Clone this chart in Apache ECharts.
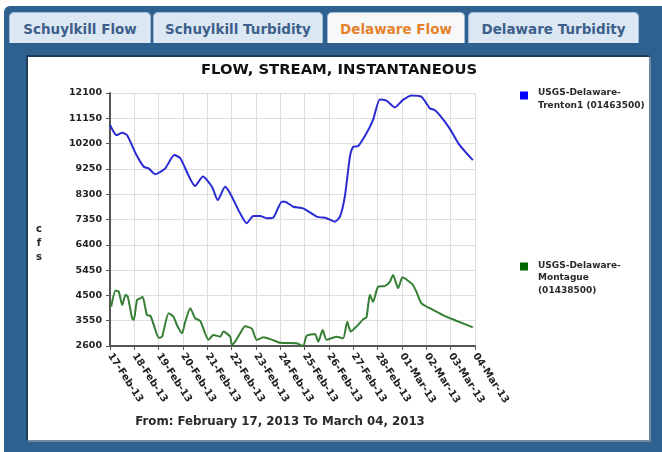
<!DOCTYPE html>
<html>
<head>
<meta charset="utf-8">
<script src="https://cdn.jsdelivr.net/npm/echarts@6/dist/echarts.min.js"></script>
<style>
  html, body { margin: 0; padding: 0; background: #fff; }
  #page { position: relative; width: 662px; height: 452px; overflow: hidden; font-family: "DejaVu Sans", Verdana, sans-serif; }
  #frame { position: absolute; left: 4px; top: 6px; right: 0; bottom: 0; background: #2f6190; border-radius: 6px 0 0 0; }
  .tab { position: absolute; top: 12px; height: 31px; line-height: 33px; text-align: center; background: #dbe8f4;
         border: 1px solid #9fbbd6; border-bottom: none; border-radius: 5px 5px 0 0; box-sizing: border-box;
         font-weight: bold; font-size: 13.5px; color: #3e5f8a; }
  .tab.active { background: #f6f8fa; color: #e5822c; }
  #panel { position: absolute; left: 28px; top: 57px; width: 621px; height: 383px; background: #fff;
           box-shadow: -1px -1px 0 1px #1c3d5e, 1px 1px 0 1px #6f8aa3; }
  #chart { width: 621px; height: 383px; }
</style>
</head>
<body>
<div id="page">
  <div id="frame"></div>
  <div class="tab" style="left:9px;width:142px;">Schuylkill Flow</div>
  <div class="tab" style="left:153px;width:170px;">Schuylkill Turbidity</div>
  <div class="tab active" style="left:327px;width:138px;">Delaware Flow</div>
  <div class="tab" style="left:468px;width:171px;">Delaware Turbidity</div>
  <div id="panel"><div id="chart"></div></div>
</div>
<script>
// x axis: days since 17-Feb-13
var xTickLabels = ['17-Feb-13', '18-Feb-13', '19-Feb-13', '20-Feb-13', '21-Feb-13', '22-Feb-13', '23-Feb-13',
  '24-Feb-13', '25-Feb-13', '26-Feb-13', '27-Feb-13', '28-Feb-13', '01-Mar-13', '02-Mar-13', '03-Mar-13', '04-Mar-13']

// USGS-Delaware-Trenton1 (01463500)
var trentonDays = [0, 0.27, 0.5, 0.7, 1.05, 1.39, 1.59, 1.86, 2.27, 2.64, 2.89, 3.5, 3.82, 4.19, 4.43, 4.73, 4.94, 5.35,
  5.62, 5.89, 6.17, 6.44, 6.71, 7.06, 7.19, 7.53, 7.94, 8.49, 8.9, 9.24, 9.45, 9.65, 9.86, 9.99, 10.2, 10.54, 10.81,
  11.09, 11.36, 11.7, 12.04, 12.39, 12.8, 13.14, 13.34, 13.55, 13.95, 14.36, 14.91]
var trentonCfs = [10900, 10520, 10610, 10520, 9840, 9330, 9270, 9050, 9270, 9770, 9650, 8610, 8960, 8580, 8080, 8580,
  8330, 7580, 7210, 7480, 7480, 7400, 7420, 8020, 8020, 7830, 7770, 7460, 7400, 7270, 7460, 8210, 9710, 10080, 10110,
  10590, 11090, 11860, 11810, 11560, 11840, 12010, 11960, 11530, 11460, 11270, 10780, 10150, 9580]

// USGS-Delaware-Montague (01438500)
var montagueDays = [0.05, 0.23, 0.36, 0.5, 0.64, 0.73, 0.91, 0.98, 1.11, 1.25, 1.34, 1.52, 1.66, 1.8, 2.0, 2.14, 2.41,
  2.61, 2.75, 2.96, 3.09, 3.3, 3.5, 3.71, 4.05, 4.25, 4.53, 4.66, 4.94, 5.01, 5.14, 5.35, 5.55, 5.83, 6.03, 6.3, 6.65,
  6.99, 7.67, 7.94, 8.08, 8.42, 8.56, 8.74, 8.9, 9.31, 9.58, 9.75, 9.89, 10.13, 10.4, 10.54, 10.68, 10.81, 11.02,
  11.29, 11.5, 11.63, 11.84, 12.02, 12.25, 12.45, 12.59, 12.8, 13.14, 13.68, 14.23, 14.91]
var montagueCfs = [4080, 4680, 4640, 4140, 4520, 4450, 3640, 3580, 4330, 4390, 4450, 3760, 3730, 3390, 2910, 2950, 3830,
  3700, 3390, 3080, 3510, 4020, 3640, 3540, 2830, 3010, 2950, 3140, 2950, 2640, 2760, 3080, 3340, 3250, 2830, 2930,
  2840, 2720, 2700, 2600, 2980, 3050, 2760, 3200, 2830, 2950, 2890, 3510, 3140, 3330, 3600, 3680, 4520, 4260, 4830,
  4850, 5010, 5270, 4770, 5180, 5050, 4890, 4640, 4200, 4020, 3760, 3550, 3300]

var seriesNames = ['USGS-Delaware-Trenton1 (01463500)', 'USGS-Delaware-Montague (01438500)']

function pairs(xs, ys) {
  return xs.map(function (x, i) { return [x, ys[i]] })
}

var fontFamily = '"DejaVu Sans", Verdana, sans-serif'
var legendText = { fontFamily: fontFamily, fontSize: 9, fontWeight: 'bold', color: '#2a2a2a', lineHeight: 12.5, padding: [0, 0, 0, 5] }
var chart = echarts.init(document.getElementById('chart'))

chart.setOption({
  animation: false,
  title: [
    {
      text: 'FLOW, STREAM, INSTANTANEOUS',
      left: 311, top: 6, textAlign: 'center', padding: 0,
      textStyle: { fontFamily: fontFamily, fontSize: 14.8, fontWeight: 'bold', color: '#111' }
    },
    {
      text: 'From: February 17, 2013 To March 04, 2013',
      left: 252, top: 359, textAlign: 'center', padding: 0,
      textStyle: { fontFamily: fontFamily, fontSize: 11.8, fontWeight: 'bold', color: '#2a2a2a' }
    }
  ],
  // square sits near the first text line, so the icon box is as tall as the text
  legend: [
    {
      data: [seriesNames[0]], left: 492, top: 29, padding: 0,
      icon: 'path://M0,0L0,0M0,5.5L8,5.5L8,13.5L0,13.5ZM8,26L8,26', itemWidth: 8, itemHeight: 26,
      formatter: function (n) { return n.replace('Delaware-', 'Delaware-\n') },
      textStyle: legendText
    },
    {
      data: [seriesNames[1]], left: 492, top: 202, padding: 0,
      icon: 'path://M0,0L0,0M0,3.5L8,3.5L8,11.5L0,11.5ZM8,38L8,38', itemWidth: 8, itemHeight: 38,
      formatter: function (n) { return n.replace('Delaware-', 'Delaware-\n').replace(' (', '\n(') },
      textStyle: legendText
    }
  ],
  grid: { left: 82, top: 36, width: 365, height: 253 },
  xAxis: {
    type: 'value', min: 0, max: 15, interval: 1,
    axisLine: { lineStyle: { color: '#555', width: 2 } },
    axisTick: { show: true, length: 4, lineStyle: { color: '#555' } },
    splitLine: { show: true, lineStyle: { color: '#dedede' } },
    axisLabel: {
      rotate: -57, margin: 8, color: '#222',
      fontFamily: fontFamily, fontSize: 10, fontWeight: 'bold',
      formatter: function (v) { return xTickLabels[v] }
    }
  },
  yAxis: {
    type: 'value', min: 2600, max: 12100, interval: 950,
    name: 'c\nf\ns', nameLocation: 'middle', nameRotate: 0, nameGap: 71,
    nameTextStyle: { fontFamily: fontFamily, fontSize: 10, fontWeight: 'bold', color: '#222', align: 'center', verticalAlign: 'top', lineHeight: 14, padding: [3, 0, 0, 0] },
    axisLine: { show: true, lineStyle: { color: '#555', width: 2 } },
    axisTick: { show: true, length: 4, lineStyle: { color: '#555' } },
    splitLine: { show: true, lineStyle: { color: '#dedede' } },
    axisLabel: {
      color: '#222', fontFamily: fontFamily, fontSize: 9.5, fontWeight: 'bold', margin: 8,
      formatter: function (v) { return String(v) }
    }
  },
  series: [
    {
      name: seriesNames[0], type: 'line', showSymbol: false, smooth: 0.2,
      data: pairs(trentonDays, trentonCfs),
      itemStyle: { color: '#0000ff' },
      lineStyle: { color: '#2b2bd4', width: 2 }
    },
    {
      name: seriesNames[1], type: 'line', showSymbol: false, smooth: 0.2,
      data: pairs(montagueDays, montagueCfs),
      itemStyle: { color: '#006600' },
      lineStyle: { color: '#357f35', width: 2 }
    }
  ]
})
</script>
</body>
</html>
